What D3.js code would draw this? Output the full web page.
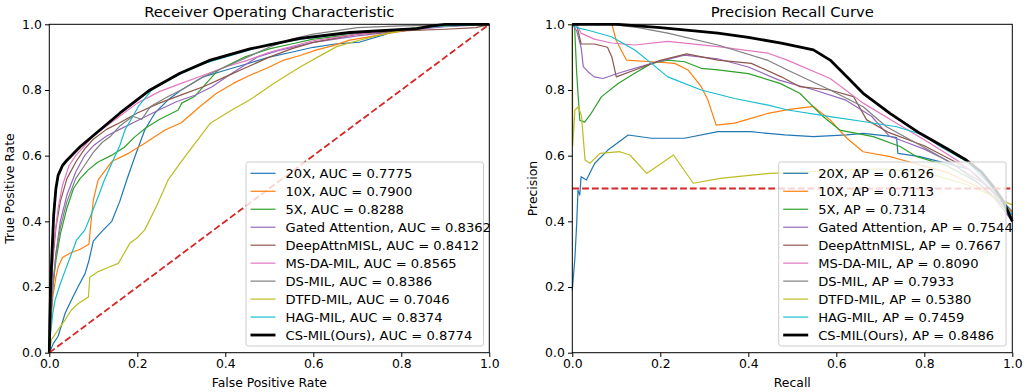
<!DOCTYPE html>
<html>
<head>
<meta charset="utf-8">
<script src="https://cdn.jsdelivr.net/npm/d3@7"></script>
<style>
  body { margin: 0; background: #fff; }
  svg { font-family: "DejaVu Sans", sans-serif; }
</style>
</head>
<body>
<div id="my_dataviz"></div>
<script>
// DATA ===========================================================================================
const methods = ['20X', '10X', '5X', 'Gated Attention', 'DeepAttnMISL', 'MS-DA-MIL', 'DS-MIL',
  'DTFD-MIL', 'HAG-MIL', 'CS-MIL(Ours)']
const aucValues = ['0.7775', '0.7900', '0.8288', '0.8362', '0.8412', '0.8565', '0.8386', '0.7046', '0.8374', '0.8774']
const apValues = ['0.6126', '0.7113', '0.7314', '0.7544', '0.7667', '0.8090', '0.7933', '0.5380', '0.7459', '0.8486']
const tickValues = [0, 0.2, 0.4, 0.6, 0.8, 1.0]

// ROC points: [false positive rate, true positive rate]
const roc20x = [[0,0],[0.01,0.03],[0.02,0.05],[0.036,0.12],[0.05,0.16],[0.065,0.2],[0.081,0.24],[0.09,0.28],
  [0.1,0.34],[0.12,0.37],[0.142,0.40],[0.16,0.46],[0.176,0.526],[0.19,0.58],[0.2,0.617],[0.217,0.678],
  [0.24,0.73],[0.27,0.77],[0.3,0.80],[0.35,0.84],[0.4,0.86],[0.45,0.88],[0.5,0.9],[0.55,0.915],[0.6,0.93],
  [0.65,0.94],[0.706,0.946],[0.758,0.967],[0.79,0.982],[0.85,0.99],[0.9,0.995],[1,1]]
const roc10x = [[0,0],[0.003,0.08],[0.008,0.17],[0.015,0.23],[0.02,0.26],[0.03,0.29],[0.05,0.305],[0.07,0.315],
  [0.09,0.33],[0.095,0.4],[0.1,0.465],[0.111,0.526],[0.142,0.582],[0.18,0.607],[0.217,0.638],[0.263,0.678],
  [0.3,0.70],[0.342,0.749],[0.38,0.79],[0.418,0.82],[0.456,0.845],[0.494,0.866],[0.531,0.89],[0.57,0.905],
  [0.608,0.922],[0.645,0.935],[0.683,0.952],[0.72,0.96],[0.76,0.97],[0.8,0.978],[0.85,0.99],[0.9,0.995],[1,1]]
const roc5x = [[0,0],[0.003,0.1],[0.008,0.2],[0.015,0.28],[0.025,0.36],[0.04,0.44],[0.055,0.5],[0.07,0.53],
  [0.088,0.556],[0.11,0.58],[0.14,0.6],[0.17,0.625],[0.195,0.658],[0.22,0.685],[0.25,0.71],[0.293,0.739],
  [0.301,0.76],[0.33,0.78],[0.35,0.81],[0.384,0.861],[0.445,0.901],[0.5,0.925],[0.55,0.94],[0.6,0.955],
  [0.7,0.97],[0.8,0.985],[0.9,0.995],[1,1]]
const rocGated = [[0,0],[0.003,0.1],[0.008,0.2],[0.015,0.3],[0.025,0.4],[0.04,0.48],[0.06,0.55],[0.08,0.6],
  [0.1,0.63],[0.13,0.66],[0.16,0.68],[0.202,0.708],[0.25,0.74],[0.29,0.765],[0.331,0.784],[0.37,0.81],
  [0.415,0.851],[0.474,0.901],[0.52,0.92],[0.6,0.945],[0.7,0.965],[0.8,0.98],[0.9,0.993],[1,1]]
const rocDeep = [[0,0],[0.003,0.15],[0.008,0.28],[0.015,0.38],[0.025,0.46],[0.04,0.53],[0.06,0.58],[0.08,0.62],
  [0.1,0.65],[0.13,0.68],[0.16,0.70],[0.2,0.73],[0.25,0.76],[0.3,0.785],[0.35,0.81],[0.4,0.84],[0.45,0.87],
  [0.5,0.9],[0.55,0.925],[0.6,0.945],[0.7,0.97],[0.8,0.98],[0.9,0.985],[0.97,0.99],[1,1]]
const rocMsda = [[0,0],[0.002,0.1],[0.005,0.22],[0.01,0.33],[0.02,0.44],[0.03,0.51],[0.045,0.57],[0.06,0.6],
  [0.08,0.63],[0.1,0.66],[0.13,0.69],[0.16,0.72],[0.2,0.76],[0.25,0.795],[0.3,0.82],[0.35,0.845],[0.4,0.87],
  [0.45,0.89],[0.5,0.915],[0.6,0.95],[0.7,0.97],[0.8,0.985],[0.9,0.995],[1,1]]
const rocDs = [[0,0],[0.003,0.1],[0.008,0.2],[0.015,0.3],[0.025,0.38],[0.04,0.46],[0.06,0.53],[0.08,0.57],
  [0.1,0.61],[0.12,0.64],[0.14,0.66],[0.16,0.69],[0.19,0.72],[0.21,0.71],[0.23,0.75],[0.27,0.78],[0.3,0.8],
  [0.35,0.84],[0.4,0.87],[0.45,0.9],[0.5,0.93],[0.55,0.955],[0.6,0.97],[0.65,0.98],[0.7,0.99],[0.8,0.995],[1,1]]
const rocDtfd = [[0,0],[0.005,0.04],[0.02,0.07],[0.036,0.1],[0.05,0.13],[0.066,0.15],[0.089,0.17],[0.092,0.23],
  [0.111,0.247],[0.135,0.26],[0.157,0.272],[0.183,0.333],[0.2,0.35],[0.217,0.374],[0.245,0.45],[0.27,0.526],
  [0.31,0.6],[0.354,0.678],[0.366,0.699],[0.41,0.735],[0.456,0.77],[0.51,0.82],[0.57,0.87],[0.61,0.9],
  [0.653,0.932],[0.7,0.95],[0.76,0.97],[0.835,0.99],[0.9,0.995],[1,1]]
const rocHag = [[0,0],[0.003,0.06],[0.008,0.12],[0.013,0.16],[0.025,0.21],[0.036,0.25],[0.05,0.3],[0.062,0.343],
  [0.081,0.374],[0.095,0.42],[0.111,0.475],[0.125,0.525],[0.142,0.577],[0.16,0.63],[0.172,0.678],[0.19,0.72],
  [0.202,0.749],[0.233,0.80],[0.27,0.83],[0.3,0.85],[0.35,0.88],[0.4,0.9],[0.45,0.92],[0.5,0.94],[0.6,0.96],
  [0.7,0.975],[0.8,0.985],[0.9,0.995],[1,1]]
const rocCs = [[0,0],[0.001,0.08],[0.003,0.2],[0.006,0.3],[0.01,0.42],[0.015,0.5],[0.02,0.54],[0.03,0.57],
  [0.04,0.586],[0.07,0.627],[0.115,0.678],[0.161,0.73],[0.229,0.80],[0.297,0.851],[0.366,0.891],[0.456,0.925],
  [0.57,0.957],[0.683,0.975],[0.835,0.987],[0.87,0.995],[0.9,1],[1,1]]

// PR points: [recall, precision]
const pr20x = [[0,0.19],[0.006,0.29],[0.01,0.394],[0.013,0.495],[0.017,0.48],[0.02,0.536],[0.032,0.526],
  [0.051,0.577],[0.081,0.617],[0.104,0.64],[0.127,0.663],[0.18,0.653],[0.255,0.653],[0.331,0.673],[0.405,0.673],
  [0.483,0.663],[0.548,0.658],[0.624,0.663],[0.661,0.668],[0.714,0.66],[0.737,0.655],[0.74,0.607],[0.79,0.597],
  [0.9,0.56],[0.95,0.5],[1,0.43]]
const pr10x = [[0,1],[0.09,1.0],[0.1,0.95],[0.123,0.891],[0.18,0.886],[0.233,0.881],[0.263,0.861],[0.293,0.81],
  [0.308,0.77],[0.327,0.693],[0.369,0.699],[0.445,0.729],[0.49,0.74],[0.548,0.75],[0.586,0.709],[0.624,0.653],
  [0.661,0.612],[0.722,0.597],[0.752,0.586],[0.85,0.55],[0.93,0.5],[1,0.43]]
const pr5x = [[0,1],[0.005,1],[0.01,0.85],[0.017,0.708],[0.028,0.702],[0.043,0.729],[0.066,0.779],[0.104,0.82],
  [0.142,0.851],[0.18,0.881],[0.217,0.891],[0.255,0.886],[0.293,0.866],[0.331,0.861],[0.4,0.85],[0.472,0.82],
  [0.517,0.79],[0.57,0.719],[0.608,0.678],[0.684,0.658],[0.745,0.628],[0.783,0.597],[0.85,0.57],[0.92,0.52],
  [0.97,0.46],[1,0.41]]
const prGated = [[0,1],[0.01,0.98],[0.02,0.93],[0.025,0.871],[0.036,0.855],[0.05,0.84],[0.07,0.835],[0.104,0.851],
  [0.18,0.881],[0.255,0.906],[0.33,0.895],[0.4,0.87],[0.47,0.83],[0.55,0.8],[0.62,0.77],[0.68,0.72],[0.72,0.66],
  [0.76,0.64],[0.8,0.62],[0.86,0.58],[0.92,0.52],[0.96,0.47],[1,0.4]]
const prDeep = [[0,1],[0.01,1],[0.02,0.94],[0.05,0.94],[0.08,0.93],[0.09,0.9],[0.1,0.84],[0.142,0.861],[0.2,0.89],
  [0.26,0.91],[0.331,0.891],[0.407,0.881],[0.475,0.84],[0.517,0.81],[0.586,0.80],[0.639,0.78],[0.669,0.709],
  [0.72,0.67],[0.8,0.63],[0.9,0.56],[0.95,0.5],[1,0.42]]
const prMsda = [[0,1],[0.01,1],[0.02,0.973],[0.05,0.955],[0.089,0.943],[0.142,0.937],[0.217,0.948],[0.331,0.932],
  [0.445,0.912],[0.49,0.89],[0.586,0.835],[0.661,0.76],[0.737,0.699],[0.813,0.638],[0.874,0.586],[0.92,0.54],
  [0.96,0.48],[1,0.42]]
const prDs = [[0,1],[0.088,1.0],[0.15,0.99],[0.217,0.973],[0.331,0.937],[0.445,0.89],[0.49,0.86],[0.586,0.80],
  [0.661,0.749],[0.714,0.688],[0.8,0.625],[0.87,0.57],[0.93,0.52],[0.97,0.47],[1,0.42]]
const prDtfd = [[0,1],[0.001,0.63],[0.006,0.739],[0.014,0.749],[0.021,0.719],[0.029,0.587],[0.04,0.577],
  [0.063,0.607],[0.108,0.612],[0.131,0.602],[0.169,0.546],[0.23,0.602],[0.275,0.516],[0.336,0.531],[0.449,0.546],
  [0.525,0.55],[0.6,0.555],[0.7,0.56],[0.8,0.55],[0.9,0.51],[0.95,0.48],[1,0.45]]
const prHag = [[0,1],[0.01,0.99],[0.036,0.982],[0.089,0.962],[0.142,0.922],[0.18,0.881],[0.217,0.84],[0.293,0.80],
  [0.369,0.774],[0.445,0.754],[0.49,0.739],[0.586,0.719],[0.661,0.704],[0.737,0.688],[0.798,0.663],[0.836,0.628],
  [0.9,0.58],[0.95,0.51],[1,0.42]]
const prCs = [[0,1],[0.104,1.0],[0.2,0.99],[0.331,0.973],[0.4,0.96],[0.475,0.943],[0.548,0.922],[0.586,0.891],
  [0.624,0.84],[0.661,0.79],[0.722,0.729],[0.79,0.668],[0.851,0.622],[0.896,0.586],[0.93,0.55],[0.96,0.5],
  [0.98,0.46],[1,0.4]]

const rocCurves = [roc20x, roc10x, roc5x, rocGated, rocDeep, rocMsda, rocDs, rocDtfd, rocHag, rocCs]
const prCurves = [pr20x, pr10x, pr5x, prGated, prDeep, prMsda, prDs, prDtfd, prHag, prCs]

// SET UP =========================================================================================
const width = 1033
const height = 392
const colors = ['#1f77b4', '#ff7f0e', '#2ca02c', '#9467bd', '#8c564b', '#e377c2', '#7f7f7f', '#bcbd22', '#17becf', '#000000']

const svg = d3.select('#my_dataviz')
  .append('svg')
  .attr('width', width)
  .attr('height', height)

function panel(opts) {
  const x = d3.scaleLinear().domain([0, 1]).range([opts.left, opts.left + 440])
  const y = d3.scaleLinear().domain([0, 1]).range([352.7, 24.3])
  const g = svg.append('g')

  // axes
  const xAxis = g.append('g')
    .attr('transform', `translate(0, ${y(0)})`)
    .call(d3.axisBottom(x).tickValues(tickValues).tickFormat(d3.format('.1f')).tickSize(4.3).tickPadding(2))
  const yAxis = g.append('g')
    .attr('transform', `translate(${x(0)}, 0)`)
    .call(d3.axisLeft(y).tickValues(tickValues).tickFormat(d3.format('.1f')).tickSize(4.3).tickPadding(3.2))
  ;[xAxis, yAxis].forEach(a => {
    a.select('.domain').remove()
    a.selectAll('text').attr('font-size', 12.4).attr('fill', '#000').attr('font-family', 'DejaVu Sans')
    a.selectAll('line').attr('stroke', '#000').attr('stroke-width', 1)
  })

  // marks
  const line = d3.line().x(d => x(d[0])).y(d => y(d[1]))
  opts.curves.forEach((c, i) => {
    g.append('path')
      .datum(c)
      .attr('fill', 'none')
      .attr('stroke', colors[i])
      .attr('stroke-width', i === 9 ? 2.8 : 1.2)
      .attr('stroke-linejoin', 'round')
      .attr('d', line)
  })
  g.append('path')
    .datum(opts.chance)
    .attr('fill', 'none')
    .attr('stroke', '#d62728')
    .attr('stroke-width', 1.8)
    .attr('stroke-dasharray', '6.8,3')
    .attr('d', line)

  // frame
  g.append('rect')
    .attr('x', x(0)).attr('y', y(1))
    .attr('width', x(1) - x(0)).attr('height', y(0) - y(1))
    .attr('fill', 'none').attr('stroke', '#000').attr('stroke-width', 1)

  // texts
  g.append('text')
    .attr('x', (x(0) + x(1)) / 2).attr('y', 16.8)
    .attr('text-anchor', 'middle').attr('font-size', 14.8)
    .text(opts.title)
  g.append('text')
    .attr('x', (x(0) + x(1)) / 2).attr('y', 387)
    .attr('text-anchor', 'middle').attr('font-size', 12.4)
    .text(opts.xLabel)
  g.append('text')
    .attr('transform', `translate(${opts.yLabelX}, ${(y(0) + y(1)) / 2}) rotate(-90)`)
    .attr('text-anchor', 'middle').attr('font-size', 12.4)
    .text(opts.yLabel)

  // legend
  const lg = g.append('g')
  lg.append('rect')
    .attr('x', opts.legendX).attr('y', 162)
    .attr('width', opts.legendW).attr('height', 184)
    .attr('rx', 2.5)
    .attr('fill', '#fff').attr('fill-opacity', 0.8)
    .attr('stroke', '#cccccc').attr('stroke-width', 1)
  methods.forEach((m, i) => {
    const cy = 173.3 + i * 17.97
    lg.append('line')
      .attr('x1', opts.legendX + 4.5).attr('x2', opts.legendX + 29.5)
      .attr('y1', cy).attr('y2', cy)
      .attr('stroke', colors[i])
      .attr('stroke-width', i === 9 ? 2.8 : 1.2)
    lg.append('text')
      .attr('x', opts.legendX + 39.5).attr('y', cy + 4.6)
      .attr('font-size', 13.1)
      .text(`${m}, ${opts.metric} = ${opts.values[i]}`)
  })
}

// MARKS ==========================================================================================
panel({
  left: 49.3, curves: rocCurves, chance: [[0, 0], [1, 1]],
  title: 'Receiver Operating Characteristic', xLabel: 'False Positive Rate', yLabel: 'True Positive Rate',
  yLabelX: 14, legendX: 246, legendW: 237.5, metric: 'AUC', values: aucValues
})
panel({
  left: 572.3, curves: prCurves, chance: [[0, 0.5], [1, 0.5]],
  title: 'Precision Recall Curve', xLabel: 'Recall', yLabel: 'Precision',
  yLabelX: 537, legendX: 778.7, legendW: 227.3, metric: 'AP', values: apValues
})
</script>
</body>
</html>
